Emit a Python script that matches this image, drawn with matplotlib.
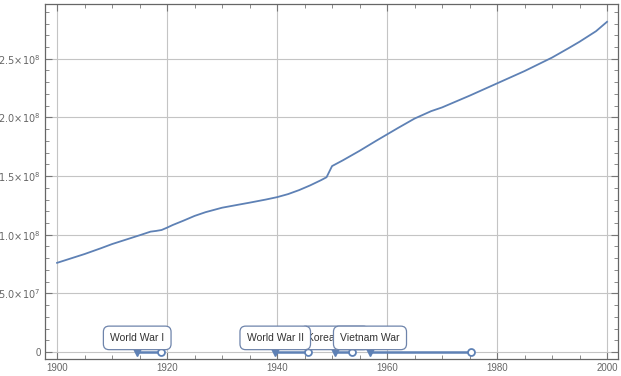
import numpy as np
import matplotlib
matplotlib.use('Agg')
import matplotlib.pyplot as plt
from matplotlib.ticker import FuncFormatter, MultipleLocator

plt.rcParams['font.family'] = ['Liberation Sans', 'DejaVu Sans']

# US population (millions)
years = [1900, 1902, 1905, 1908, 1910, 1912, 1915, 1917, 1918, 1919, 1920,
         1921, 1923, 1925, 1927, 1930, 1933, 1935, 1938, 1940, 1942, 1944,
         1946, 1948, 1949, 1950, 1952, 1955, 1958, 1960, 1962, 1965, 1968,
         1970, 1975, 1980, 1985, 1990, 1993, 1995, 1998, 2000]
population = [76.0, 79.0, 83.5, 88.5, 92.0, 95.0, 99.5, 102.6, 103.2, 104.0,
              106.0, 108.2, 112.0, 116.0, 119.2, 123.0, 125.6, 127.3, 130.0,
              132.0, 134.6, 138.0, 142.0, 146.5, 149.0, 158.5, 163.5, 171.5,
              180.0, 185.5, 191.0, 199.0, 205.3, 208.5, 218.5, 229.0, 239.5,
              251.0, 259.0, 264.5, 273.5, 281.5]
population = [p * 1e6 for p in population]

# wars: label, start, end (decimal years)
wars = ['Korean War', 'World War I', 'World War II', 'Vietnam War']
war_start = [1950.48, 1914.57, 1939.67, 1956.9]
war_end = [1953.57, 1918.86, 1945.67, 1975.33]

blue = '#5e81b5'
grey = '#666666'


def sci_label(v, pos):
    if v == 0:
        return '0'
    exp = int(np.floor(np.log10(abs(v))))
    mant = v / 10 ** exp
    return r'${:.1f}\!\times\!10^{{{}}}$'.format(mant, exp)


fig = plt.figure(figsize=(6.21, 3.76), dpi=100)
ax = fig.add_axes([45 / 621, 17 / 376, 573 / 621, 355 / 376])

ax.plot(years, population, color=blue, lw=1.3, zorder=3)

for i, (name, s, e) in enumerate(zip(wars, war_start, war_end)):
    z = 4 + i
    ax.plot([s, e], [0, 0], color=blue, lw=1.8, zorder=z)
    ax.plot([s], [0], marker='v', ms=6, color=blue, zorder=z)
    ax.plot([e], [0], marker='o', ms=5, mfc='white', mec=blue, mew=1.3,
            zorder=z)
    ax.text(s, 1.2e7, name, ha='center', va='center', fontsize=7.5,
            color='#333333', zorder=z + 10,
            bbox=dict(boxstyle='round,pad=0.65,rounding_size=0.55',
                      fc='white', ec='#6e84ab', lw=0.9))

ax.set_xlim(1897.8, 2002)
ax.set_ylim(-6e6, 2.967e8)

ax.xaxis.set_major_locator(MultipleLocator(20))
ax.xaxis.set_minor_locator(MultipleLocator(5))
ax.yaxis.set_major_locator(MultipleLocator(5e7))
ax.yaxis.set_minor_locator(MultipleLocator(1e7))
ax.yaxis.set_major_formatter(FuncFormatter(sci_label))

ax.grid(True, which='major', color='#c4c4c4', lw=0.8, zorder=0)
ax.tick_params(which='both', direction='in', top=True, right=True,
               colors='#777777', labelcolor=grey, labelsize=7, pad=3)
ax.tick_params(which='major', length=5)
ax.tick_params(which='minor', length=3)
for sp in ax.spines.values():
    sp.set_color('#666666')
    sp.set_linewidth(0.9)

fig.savefig('out.png', dpi=100)
